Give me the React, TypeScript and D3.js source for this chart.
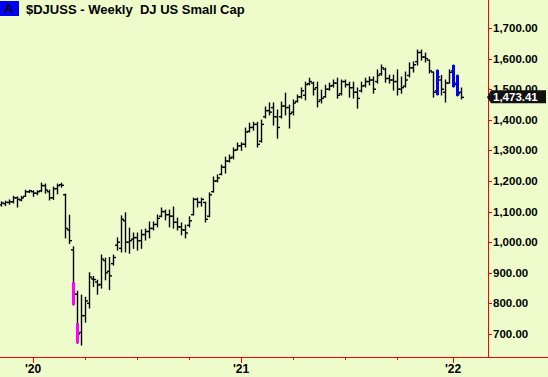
import React from "react";
import * as d3 from "d3";

const W = 548;
const H = 377;

// Weekly OHLC, $DJUSS, Nov 2019 – Jan 2022
const opens = [1122,1126,1130,1132,1145,1138,1150,1165,1165,1160,1168,1185,1165,1145,1175,1188,1155,1040,975,830,705,760,800,880,870,862,940,905,930,990,980,1070,1000,1010,1015,1005,1025,1035,1045,1058,1085,1100,1090,1085,1065,1050,1040,1055,1090,1140,1130,1130,1085,1165,1200,1222,1245,1265,1278,1302,1315,1320,1362,1375,1385,1330,1410,1430,1440,1410,1410,1445,1440,1425,1460,1475,1480,1518,1520,1505,1465,1475,1500,1512,1520,1485,1525,1515,1505,1490,1495,1512,1525,1530,1525,1550,1565,1535,1530,1525,1500,1510,1545,1570,1590,1620,1605,1595,1556,1495,1530,1490,1520,1560,1520,1490];
const highs = [1132,1134,1138,1150,1148,1150,1170,1170,1168,1168,1193,1190,1170,1180,1190,1193,1157,1088,985,840,827,820,900,888,876,958,948,950,958,1014,1086,1096,1046,1030,1030,1040,1043,1066,1066,1089,1112,1105,1105,1115,1079,1063,1056,1083,1144,1144,1144,1131,1161,1213,1220,1252,1278,1285,1308,1324,1325,1373,1389,1392,1392,1399,1442,1455,1455,1432,1458,1487,1448,1465,1481,1504,1523,1536,1523,1523,1497,1513,1520,1530,1536,1530,1530,1523,1523,1504,1523,1536,1540,1540,1563,1579,1569,1546,1546,1563,1540,1556,1586,1589,1628,1628,1618,1595,1556,1563,1545,1530,1563,1579,1546,1504];
const lows = [1118,1120,1124,1128,1115,1135,1150,1162,1150,1155,1165,1160,1138,1140,1158,1180,1014,996,795,670,664,739,785,855,830,850,877,845,925,974,968,968,964,980,974,980,1007,1014,1040,1050,1083,1073,1050,1046,1040,1024,1014,1050,1089,1115,1118,1066,1083,1164,1197,1220,1226,1262,1272,1301,1300,1311,1360,1366,1311,1327,1406,1416,1383,1340,1406,1416,1373,1416,1458,1471,1465,1514,1481,1442,1455,1474,1497,1507,1471,1481,1507,1474,1471,1438,1491,1507,1514,1487,1520,1546,1523,1520,1497,1481,1487,1507,1540,1556,1579,1595,1589,1553,1474,1481,1481,1458,1520,1507,1478,1468];
const closes = [1128,1130,1132,1145,1140,1145,1165,1168,1160,1165,1185,1170,1145,1175,1185,1186,1045,1005,830,700,760,808,886,878,860,945,900,890,950,1000,1075,1000,1005,1015,1005,1025,1035,1045,1058,1078,1100,1090,1085,1065,1050,1040,1030,1070,1140,1130,1140,1075,1155,1200,1210,1245,1265,1275,1300,1315,1320,1360,1375,1385,1320,1385,1430,1425,1410,1375,1445,1440,1420,1455,1475,1495,1515,1525,1500,1460,1470,1500,1510,1520,1480,1525,1515,1505,1490,1470,1510,1525,1530,1500,1545,1570,1535,1530,1525,1500,1505,1530,1570,1580,1620,1605,1600,1560,1490,1540,1500,1520,1555,1515,1485,1473.41];

// Highlighted bar segments (week index, top, bottom, colour)
const hlIndex = [18, 19, 109, 113, 114];
const hlTop = [870, 736, 1563, 1579, 1546];
const hlBottom = [795, 670, 1481, 1507, 1478];
const hlColor = ["#ff00ff", "#ff00ff", "#0000ff", "#0000ff", "#0000ff"];

// Axis ticks
const yTicks = [700, 800, 900, 1000, 1100, 1200, 1300, 1400, 1500, 1600, 1700];
const xTickIndex = [8, 21, 34, 47, 60, 73, 86, 99, 113];
const xLabelIndex = [8, 60, 113];
const xLabels = ["'20", "'21", "'22"];

const lastPrice = 1473.41;
const title = "$DJUSS - Weekly  DJ US Small Cap";

const BG = "#eefccc";
const FONT = "Arial, 'Liberation Sans', sans-serif";

export default function App() {
  const x = d3.scaleLinear().domain([0, closes.length - 1]).range([1, 461]);
  const y = d3.scaleLinear().domain([700, 1700]).range([334, 28]);
  const axisX = 488;
  const axisY = 357;
  const fmt = d3.format(",.2f");
  const ly = y(lastPrice);

  return (
    <svg
      width={W}
      height={H}
      style={{ position: "absolute", left: 0, top: 0, display: "block" }}
      fontFamily={FONT}
    >
      <rect x={0} y={0} width={W} height={H} fill={BG} />

      {/* bars */}
      <g stroke="#000" strokeWidth={1.4}>
        {closes.map((c, i) => {
          const cx = Math.round(x(i)) + 0.5;
          return (
            <g key={i}>
              <line x1={cx} x2={cx} y1={y(highs[i]) - 0.5} y2={y(lows[i]) + 0.5} />
              <line x1={cx - 2.5} x2={cx} y1={y(opens[i])} y2={y(opens[i])} />
              <line x1={cx} x2={cx + 2.5} y1={y(c)} y2={y(c)} />
            </g>
          );
        })}
      </g>

      {/* highlights */}
      {hlIndex.map((idx, k) => {
        const cx = Math.round(x(idx)) + 0.5;
        return (
          <rect
            key={k}
            x={cx - 1.5}
            y={y(hlTop[k])}
            width={3}
            height={y(hlBottom[k]) - y(hlTop[k])}
            fill={hlColor[k]}
          />
        );
      })}

      {/* right axis */}
      <line x1={axisX + 0.5} x2={axisX + 0.5} y1={0} y2={axisY} stroke="#ff0000" strokeWidth={1} />
      {yTicks.map((t) => (
        <g key={t}>
          <line x1={axisX} x2={axisX + 4} y1={Math.round(y(t)) + 0.5} y2={Math.round(y(t)) + 0.5} stroke="#ff0000" />
          <text
            x={axisX + 5}
            y={y(t)}
            dy="0.35em"
            fontSize={11.5}
            fontWeight="bold"
            fill="#000"
          >
            {fmt(t)}
          </text>
        </g>
      ))}

      {/* last price label */}
      <path
        d={`M${axisX - 1},${ly} L${axisX + 3},${ly - 7} L${W - 2},${ly - 7} L${W - 2},${ly + 6} L${axisX + 3},${ly + 6} Z`}
        fill="#111"
      />
      <text x={axisX + 5} y={ly} dy="0.35em" fontSize={11.5} fontWeight="bold" fill="#fff">
        {fmt(lastPrice)}
      </text>

      {/* bottom axis */}
      <line x1={0} x2={W} y1={axisY + 0.5} y2={axisY + 0.5} stroke="#ff0000" strokeWidth={1} />
      {xTickIndex.map((ti) => {
        const tx = Math.round(x(ti)) + 0.5;
        const major = xLabelIndex.includes(ti);
        return (
          <line key={ti} x1={tx} x2={tx} y1={axisY} y2={axisY + (major ? 6 : 3)} stroke="#ff0000" />
        );
      })}
      {xLabelIndex.map((ti, k) => (
        <text
          key={ti}
          x={x(ti)}
          y={373}
          textAnchor="middle"
          fontSize={12}
          fontWeight="bold"
          fill="#000"
        >
          {xLabels[k]}
        </text>
      ))}

      {/* title */}
      <rect x={0} y={1} width={19} height={15} fill="#0000ff" />
      <text x={4} y={13} fontSize={13} fontWeight="bold" fill="#000">
        A
      </text>
      <text x={26} y={13.5} fontSize={13} fontWeight="bold" fill="#000" style={{ whiteSpace: "pre" }}>
        {title}
      </text>
    </svg>
  );
}
